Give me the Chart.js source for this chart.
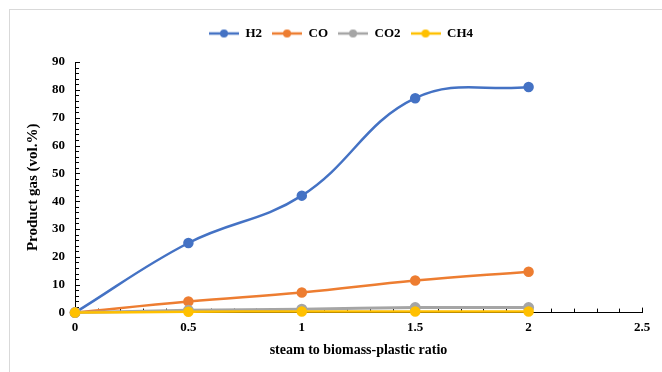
<!DOCTYPE html>
<html>
<head>
<meta charset="utf-8">
<script src="https://cdn.jsdelivr.net/npm/chart.js@4.4.1/dist/chart.umd.min.js"></script>
<style>
  html, body { margin: 0; padding: 0; background: #fff; overflow: hidden; }
  #frame { position: absolute; left: 9px; top: 9px; width: 700px; height: 400px; border: 1px solid #d9d9d9; }
  #wrap { position: absolute; left: 0; top: 0; width: 662px; height: 372px; }
</style>
</head>
<body>
<div id="frame"></div>
<div id="wrap"><canvas id="grafico"></canvas></div>
<script>
// datos
const ratio = [0, 0.5, 1, 1.5, 2];
const h2 = [0, 25, 42, 77, 81];
const co = [0, 4, 7.2, 11.5, 14.7];
const co2 = [0, 0.8, 1.2, 1.8, 1.8];
const ch4 = [0, 0.3, 0.4, 0.4, 0.4];
const nombres = ['H2', 'CO', 'CO2', 'CH4'];
const colores = ['#4472c4', '#ed7d31', '#a5a5a5', '#ffc000'];

// icono de leyenda: linea con punto
const iconoLeyenda = (color) => {
    const c = document.createElement('canvas');
    c.width = 30; c.height = 10;
    const x = c.getContext('2d');
    x.strokeStyle = color; x.lineWidth = 2.5;
    x.beginPath(); x.moveTo(0, 5); x.lineTo(30, 5); x.stroke();
    x.fillStyle = color;
    x.beginPath(); x.arc(15, 5, 4, 0, Math.PI * 2); x.fill();
    return c;
};

const serie = (i, valores) => ({
    label: nombres[i],
    data: ratio.map((r, k) => ({ x: r, y: valores[k] })),
    borderColor: colores[i],
    backgroundColor: colores[i],
    borderWidth: i === 2 ? 3 : 2.5,
    pointRadius: 4,
    pointHoverRadius: 4,
    tension: 0.4,
    order: 4 - i,
    clip: false,
    pointStyle: 'circle'
});

// marcas de eje hacia dentro (mayores y menores)
const marcasInternas = {
    id: 'marcasInternas',
    beforeDatasetsDraw(chart) {
        const ctx = chart.ctx;
        const xs = chart.scales.x, ys = chart.scales.y;
        ctx.save();
        ctx.strokeStyle = '#000';
        ctx.lineWidth = 1;
        ctx.beginPath();
        for (let v = 0; v <= 90.001; v += 2) {
            const py = Math.round(ys.getPixelForValue(v)) + 0.5;
            const largo = (Math.round(v) % 10 === 0) ? 5 : 4;
            ctx.moveTo(xs.left, py); ctx.lineTo(xs.left + largo, py);
        }
        for (let v = 0; v <= 2.5001; v += 0.1) {
            const px = Math.round(xs.getPixelForValue(v)) + 0.5;
            const largo = (Math.round(v * 10) % 5 === 0) ? 5 : 4;
            ctx.moveTo(px, ys.bottom); ctx.lineTo(px, ys.bottom - largo);
        }
        ctx.stroke();
        ctx.restore();
    }
};

// leyenda: mas espacio debajo y un poco corrida a la derecha
const ajusteLeyenda = {
    id: 'ajusteLeyenda',
    beforeInit(chart) {
        const fitOriginal = chart.legend.fit;
        chart.legend.fit = function () {
            fitOriginal.bind(chart.legend)();
            this.height += 12;
        };
    },
    afterLayout(chart) {
        chart.legend.left += 10;
        chart.legend.right += 10;
    }
};

const fuente = { family: 'Liberation Serif', weight: 'bold', size: 13 };
const etiqueta = (v) => String(v);

const config = {
    type: 'line',
    data: {
        datasets: [serie(0, h2), serie(1, co), serie(2, co2), serie(3, ch4)]
    },
    options: {
        responsive: false,
        animation: false,
        layout: { padding: { left: 20, right: 20, top: 17, bottom: 9 } },
        plugins: {
            legend: {
                position: 'top',
                labels: {
                    usePointStyle: true,
                    pointStyleWidth: 30,
                    padding: 10,
                    color: '#000',
                    font: fuente,
                    generateLabels: (chart) => chart.data.datasets.map((d, i) => ({
                        text: d.label,
                        pointStyle: iconoLeyenda(colores[i]),
                        fillStyle: colores[i],
                        strokeStyle: colores[i],
                        fontColor: '#000',
                        lineWidth: 0,
                        datasetIndex: i
                    }))
                }
            },
            tooltip: { enabled: false }
        },
        scales: {
            x: {
                type: 'linear',
                min: 0, max: 2.5,
                ticks: { stepSize: 0.5, color: '#000', font: fuente, padding: 7, callback: etiqueta },
                grid: { display: true, drawOnChartArea: false, drawTicks: false, color: '#000' },
                border: { color: '#000', width: 1 },
                title: { display: true, text: 'steam to biomass-plastic ratio', color: '#000', font: { family: 'Liberation Serif', weight: 'bold', size: 14 }, padding: { top: 0 } }
            },
            y: {
                min: 0, max: 90,
                ticks: { stepSize: 10, color: '#000', font: fuente, padding: 10, callback: etiqueta },
                grid: { display: true, drawOnChartArea: false, drawTicks: false, color: '#000' },
                border: { color: '#000', width: 1 },
                title: { display: true, text: 'Product gas (vol.%)', color: '#000', font: { family: 'Liberation Serif', weight: 'bold', size: 15 }, padding: { bottom: 4 } },
                afterFit: (scale) => { scale.width = 55; }
            }
        }
    },
    plugins: [marcasInternas, ajusteLeyenda]
};

const lienzo = document.getElementById('grafico');
lienzo.width = 662; lienzo.height = 372;
const grafico = new Chart(lienzo, config);
</script>
</body>
</html>
